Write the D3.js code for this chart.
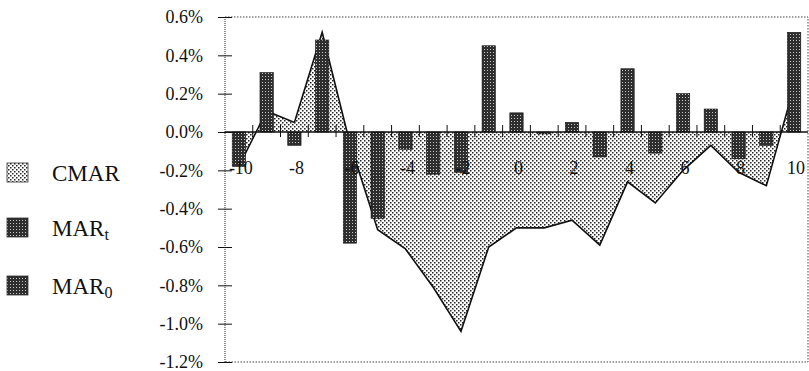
<!DOCTYPE html>
<html>
<head>
<meta charset="utf-8">
<script src="https://cdnjs.cloudflare.com/ajax/libs/d3/7.8.5/d3.min.js"></script>
<style>
  html, body { margin: 0; padding: 0; background: #fff; }
  svg { display: block; }
  text { font-family: "Liberation Serif", "Times New Roman", serif; fill: #111; }
</style>
</head>
<body>
<svg id="chart" width="809" height="371"></svg>
<script>
// Event days
const days = [-10,-9,-8,-7,-6,-5,-4,-3,-2,-1,0,1,2,3,4,5,6,7,8,9,10];
// Mean abnormal return per day (%)
const mar = [-0.18, 0.31, -0.07, 0.48, -0.58, -0.45, -0.09, -0.22, -0.21, 0.45, 0.10,
             -0.01, 0.05, -0.13, 0.33, -0.11, 0.20, 0.12, -0.14, -0.07, 0.52];
// Cumulative mean abnormal return (%)
const cmar = [-0.18, 0.11, 0.05, 0.52, -0.06, -0.51, -0.61, -0.81, -1.04, -0.60, -0.50,
              -0.50, -0.46, -0.59, -0.26, -0.37, -0.20, -0.07, -0.21, -0.28, 0.24];
const yTicks = [0.6, 0.4, 0.2, 0.0, -0.2, -0.4, -0.6, -0.8, -1.0, -1.2];
const xLabels = [-10,-8,-6,-4,-2,0,2,4,6,8,10];
const legendItems = [
  {name: "CMAR", sub: "", kind: "area"},
  {name: "MAR", sub: "t", kind: "bar"},
  {name: "MAR", sub: "0", kind: "bar"}
];

const svg = d3.select("#chart");
const L = 225, R = 808, T = 17, B = 362;

const defs = svg.append("defs");
const pa = defs.append("pattern").attr("id", "dotsLight")
  .attr("patternUnits", "userSpaceOnUse").attr("width", 4).attr("height", 4);
pa.append("rect").attr("width", 4).attr("height", 4).attr("fill", "#fff");
pa.append("rect").attr("x", 0).attr("y", 0).attr("width", 1.5).attr("height", 1.5).attr("fill", "#222");
pa.append("rect").attr("x", 2).attr("y", 2).attr("width", 1.5).attr("height", 1.5).attr("fill", "#222");

const pb = defs.append("pattern").attr("id", "dotsDark")
  .attr("patternUnits", "userSpaceOnUse").attr("width", 3).attr("height", 3);
pb.append("rect").attr("width", 3).attr("height", 3).attr("fill", "#2e2e2e");
pb.append("rect").attr("x", 1).attr("y", 1).attr("width", 1).attr("height", 1).attr("fill", "#c8c8c8");

const x = d3.scaleBand().domain(days).range([L, R]).padding(0);
const y = d3.scaleLinear().domain([-1.2, 0.6]).range([B, T]);
const cx = d => x(d) + x.bandwidth() / 2;

// plot frame (dotted)
svg.append("path")
  .attr("d", `M${L},${T}H${R}V${B}H${L}`)
  .attr("fill", "none").attr("stroke", "#444").attr("stroke-width", 1)
  .attr("stroke-dasharray", "1.5,1.5");

const data = days.map((d, i) => ({d, mar: mar[i], cmar: cmar[i]}));

// CMAR area
svg.append("path").datum(data)
  .attr("d", d3.area().x(p => cx(p.d)).y0(y(0)).y1(p => y(p.cmar)))
  .attr("fill", "url(#dotsLight)");
svg.append("path").datum(data)
  .attr("d", d3.line().x(p => cx(p.d)).y(p => y(p.cmar)))
  .attr("fill", "none").attr("stroke", "#111").attr("stroke-width", 1.6);

// MAR bars
const bw = x.bandwidth() * 0.48;
svg.selectAll("rect.bar").data(data).join("rect").attr("class", "bar")
  .attr("x", p => cx(p.d) - bw / 2)
  .attr("width", bw)
  .attr("y", p => y(Math.max(0, p.mar)))
  .attr("height", p => Math.max(1, Math.abs(y(p.mar) - y(0))))
  .attr("fill", "url(#dotsDark)")
  .attr("stroke", "#111").attr("stroke-width", 0.6);

// y axis
svg.append("line").attr("x1", L).attr("x2", L).attr("y1", T).attr("y2", B)
  .attr("stroke", "#222").attr("stroke-width", 1).attr("stroke-dasharray", "1,1");
const yAxis = d3.axisLeft(y).tickValues(yTicks).tickSize(0)
  .tickFormat(v => v.toFixed(1) + "%");
const gy = svg.append("g").attr("transform", `translate(${L},0)`).call(yAxis);
gy.select(".domain").remove();
gy.selectAll("text").attr("x", -22).attr("dy", "0.32em")
  .style("font-size", "18px").style("font-family", '"Liberation Serif", serif').attr("fill", "#111");
gy.selectAll(".tick").append("line").attr("x1", -7).attr("x2", 7)
  .attr("stroke", "#111").attr("stroke-width", 1);

// zero line with category boundary ticks
svg.append("line").attr("x1", L).attr("x2", R).attr("y1", y(0)).attr("y2", y(0))
  .attr("stroke", "#111").attr("stroke-width", 1.5);
svg.selectAll("line.xt").data(days.slice(1)).join("line").attr("class", "xt")
  .attr("x1", d => x(d)).attr("x2", d => x(d))
  .attr("y1", y(0) - 7).attr("y2", y(0) + 5)
  .attr("stroke", "#111").attr("stroke-width", 1);

// x labels
svg.selectAll("text.xl").data(xLabels).join("text").attr("class", "xl")
  .attr("x", d => cx(d) + 2).attr("y", 174)
  .attr("text-anchor", "middle").style("font-size", "18px")
  .text(d => d);

// legend
const ly = [173, 228, 286];
legendItems.forEach((it, i) => {
  const g = svg.append("g").attr("transform", `translate(0,${ly[i]})`);
  g.append("rect").attr("x", 7).attr("y", -10).attr("width", 21).attr("height", 19)
    .attr("fill", it.kind === "area" ? "url(#dotsLight)" : "url(#dotsDark)")
    .attr("stroke", "#333").attr("stroke-width", 0.8);
  const t = g.append("text").attr("x", 52).attr("y", 8).style("font-size", "23px");
  t.append("tspan").text(it.name);
  if (it.sub) t.append("tspan").attr("dy", 4).style("font-size", "16px").text(it.sub);
});
</script>
</body>
</html>
